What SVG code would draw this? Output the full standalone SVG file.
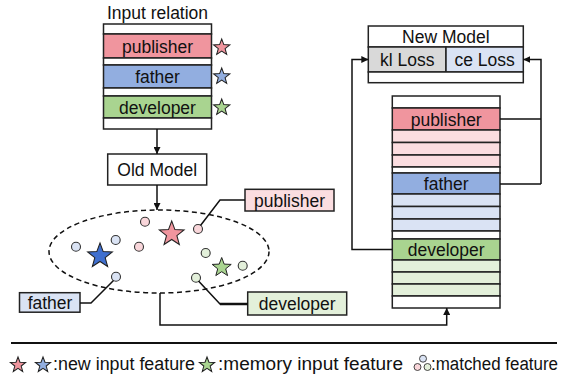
<svg xmlns="http://www.w3.org/2000/svg" xmlns:xlink="http://www.w3.org/1999/xlink" width="571" height="383" viewBox="0 0 571 383">
<style>
text{font-family:"Liberation Sans",Arial,sans-serif;font-size:17.5px;fill:#111;text-anchor:middle}
.b{stroke:#222;stroke-width:1.5}
.w{fill:#fff}
.pk{fill:#f0959e}.lpk{fill:#fbdde0}.xpk{fill:#f9d6da}
.bl{fill:#92aee0}.lbl{fill:#dae3f4}
.gr{fill:#a9d490}.lgr{fill:#e3f0da}
.gy{fill:#d9d9d9}
.ln{fill:none;stroke:#111;stroke-width:1.5}
.dot{stroke:#333;stroke-width:1.1}
.lg{text-anchor:start;font-size:18px}
</style>
<defs>
<path id="star" d="M0,-1 L0.2469,-0.3398 L0.9511,-0.309 L0.3995,0.1298 L0.5878,0.809 L0,0.42 L-0.5878,0.809 L-0.3995,0.1298 L-0.9511,-0.309 L-0.2469,-0.3398 Z"/>
<marker id="ah" viewBox="0 0 10 10" refX="10" refY="5" markerWidth="7" markerHeight="7" markerUnits="userSpaceOnUse" orient="auto">
<path d="M0,0 L10,5 L0,10 Z" fill="#111"/>
</marker>
</defs>

<g id="input-relation">
<text x="157.5" y="19">Input relation</text>
<rect class="b w" x="103.5" y="24" width="108" height="10"/>
<rect class="b pk" x="103.5" y="34" width="108" height="24"/>
<rect class="b w" x="103.5" y="58" width="108" height="7"/>
<rect class="b bl" x="103.5" y="65" width="108" height="23"/>
<rect class="b w" x="103.5" y="88" width="108" height="8"/>
<rect class="b gr" x="103.5" y="96" width="108" height="22"/>
<rect class="b w" x="103.5" y="118" width="108" height="11"/>
<text x="157.5" y="53">publisher</text>
<text x="157.5" y="83">father</text>
<text x="157.5" y="113.5">developer</text>
<use xlink:href="#star" transform="translate(221.7,47.5) scale(8.5)" fill="#f0959e" stroke="#222" stroke-width="0.12"/>
<use xlink:href="#star" transform="translate(221.7,76.5) scale(8.5)" fill="#92aee0" stroke="#222" stroke-width="0.12"/>
<use xlink:href="#star" transform="translate(221.7,107.5) scale(8.5)" fill="#a9d490" stroke="#222" stroke-width="0.12"/>
</g>

<g id="old-model">
<rect class="b w" x="107.7" y="154" width="99" height="31"/>
<text x="157.2" y="176">Old Model</text>
</g>

<g id="feature-space">
<ellipse cx="159" cy="251.5" rx="110" ry="41.5" fill="none" stroke="#111" stroke-width="1.5" stroke-dasharray="5,3.5"/>
<circle class="dot xpk" cx="145" cy="221.7" r="4.5"/>
<circle class="dot xpk" cx="198" cy="229" r="4.5"/>
<circle class="dot xpk" cx="139" cy="246.7" r="4.5"/>
<circle class="dot lbl" cx="76" cy="246.7" r="4.5"/>
<circle class="dot lbl" cx="115.7" cy="240" r="4.5"/>
<circle class="dot lbl" cx="116" cy="276.7" r="4.5"/>
<circle class="dot lgr" cx="205.7" cy="253" r="4.5"/>
<circle class="dot lgr" cx="242.7" cy="265.7" r="4.5"/>
<circle class="dot lgr" cx="196" cy="277.7" r="4.5"/>
<use xlink:href="#star" transform="translate(171.7,234) scale(13)" fill="#f0959e" stroke="#222" stroke-width="0.08"/>
<use xlink:href="#star" transform="translate(100,256) scale(13)" fill="#3f6fcf" stroke="#222" stroke-width="0.08"/>
<use xlink:href="#star" transform="translate(221.7,267.5) scale(10)" fill="#a9d490" stroke="#222" stroke-width="0.1"/>
</g>

<g id="label-publisher">
<rect class="b lpk" x="245" y="189.3" width="89" height="21.7"/>
<text x="289.5" y="206.5">publisher</text>
</g>
<g id="label-father">
<rect class="b lbl" x="19.5" y="292.7" width="60.5" height="19.5"/>
<text x="50" y="309">father</text>
</g>
<g id="label-developer">
<rect class="b lgr" x="247.7" y="292" width="99" height="23"/>
<text x="297.2" y="310">developer</text>
</g>

<g id="new-model">
<rect class="b w" x="368.3" y="26" width="155" height="21"/>
<rect class="b gy" x="368.3" y="47" width="77.7" height="25"/>
<rect class="b lbl" x="446" y="47" width="77.3" height="25"/>
<rect class="b w" x="368.3" y="72" width="155" height="10.7"/>
<text x="445.8" y="43">New Model</text>
<text x="407.2" y="66">kl Loss</text>
<text x="484.6" y="66">ce Loss</text>
</g>

<g id="memory-stack">
<rect class="b w" x="392.3" y="96" width="107.7" height="12"/>
<rect class="b pk" x="392.3" y="108" width="107.7" height="22"/>
<rect class="b lpk" x="392.3" y="130" width="107.7" height="12.5"/>
<rect class="b lpk" x="392.3" y="142.5" width="107.7" height="12.5"/>
<rect class="b lpk" x="392.3" y="155" width="107.7" height="12"/>
<rect class="b w" x="392.3" y="167" width="107.7" height="6"/>
<rect class="b bl" x="392.3" y="173" width="107.7" height="21"/>
<rect class="b lbl" x="392.3" y="194" width="107.7" height="12.5"/>
<rect class="b lbl" x="392.3" y="206.5" width="107.7" height="12.5"/>
<rect class="b lbl" x="392.3" y="219" width="107.7" height="12"/>
<rect class="b w" x="392.3" y="231" width="107.7" height="8"/>
<rect class="b gr" x="392.3" y="239" width="107.7" height="21"/>
<rect class="b lgr" x="392.3" y="260" width="107.7" height="12"/>
<rect class="b lgr" x="392.3" y="272" width="107.7" height="12"/>
<rect class="b lgr" x="392.3" y="284" width="107.7" height="12"/>
<rect class="b w" x="392.3" y="296" width="107.7" height="12"/>
<text x="446.2" y="125.5">publisher</text>
<text x="446.2" y="190">father</text>
<text x="446.2" y="256">developer</text>
</g>

<g id="connectors">
<path class="ln" d="M157,129 V154" marker-end="url(#ah)"/>
<path class="ln" d="M157,185 V210" marker-end="url(#ah)"/>
<path class="ln" d="M200.5,225.5 L220,200 H245"/>
<path class="ln" d="M113.5,280.5 L91,303 H80"/>
<path class="ln" d="M198.5,281 L220,304 H247.7"/>
<path d="M220,304 H247.7" fill="none" stroke="#111" stroke-width="2.5"/>
<path class="ln" d="M160,293 V325 H446.7 V308" marker-end="url(#ah)"/>
<path class="ln" d="M392.3,249.5 H352 V59.5 H368.3" marker-end="url(#ah)"/>
<path class="ln" d="M500,119 H541 M500,184 H541 M541,184 V59.5 H523.3" marker-end="url(#ah)"/>
</g>

<g id="legend">
<path d="M11,343 H557" stroke="#111" stroke-width="2.2"/>
<use xlink:href="#star" transform="translate(18,365) scale(8)" fill="#f0959e" stroke="#222" stroke-width="0.13"/>
<use xlink:href="#star" transform="translate(43,365) scale(8)" fill="#92aee0" stroke="#222" stroke-width="0.13"/>
<text class="lg" x="53" y="370" textLength="142" lengthAdjust="spacingAndGlyphs">:new input feature</text>
<use xlink:href="#star" transform="translate(207,365) scale(8)" fill="#a9d490" stroke="#222" stroke-width="0.13"/>
<text class="lg" x="218" y="370" textLength="185" lengthAdjust="spacingAndGlyphs">:memory input feature</text>
<circle class="lbl" cx="423" cy="358.7" r="3.5" stroke="#333" stroke-width="0.9"/>
<circle class="xpk" cx="417.5" cy="367" r="3.5" stroke="#333" stroke-width="0.9"/>
<circle class="lgr" cx="427.5" cy="367" r="3.5" stroke="#333" stroke-width="0.9"/>
<text class="lg" x="431" y="370" textLength="127" lengthAdjust="spacingAndGlyphs">:matched feature</text>
</g>
</svg>
